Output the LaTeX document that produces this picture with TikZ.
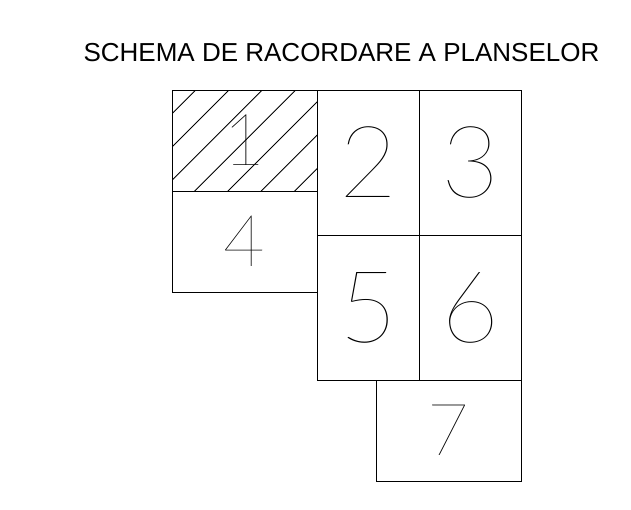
\documentclass[tikz,border=0pt]{standalone}
\usepackage{fontspec}
\setmainfont{Liberation Sans}
\IfFontExistsTF{Lato-Hairline.ttf}{\newfontfamily\digitfont{Lato-Hairline.ttf}}{\newfontfamily\digitfont{DejaVu Sans}[FakeStretch=1]}
\begin{document}
\begin{tikzpicture}[x=1pt,y=-1pt,
  sheet/.style={draw=black,line width=0.9pt},
  hatchline/.style={draw=black,line width=0.8pt},
  bignum/.style={font=\digitfont\fontsize{100}{100}\selectfont,inner sep=0pt},
  smallnum/.style={font=\digitfont\fontsize{72}{72}\selectfont,inner sep=0pt},
  title/.style={font=\fontsize{26}{26}\selectfont,inner sep=0pt}]
\useasboundingbox (0,0) rectangle (631,509);
% hatching of sheet 1
\begin{scope}
\clip (172,90) rectangle (317,191);
\foreach \c in {285.7,319,352.3,385.7,419,452.3,485.7}
  \draw[hatchline] (\c-200,200) -- (\c-80,80);
\end{scope}
\draw[sheet] (172,90) rectangle (317,191) node[pos=.5,smallnum] (n1) {1};
\draw[sheet] (172,191) rectangle (317,292) node[pos=.5,smallnum] (n4) {4};
\draw[sheet] (317,90) rectangle (419,235) node[pos=.5,bignum] (n2) {2};
\draw[sheet] (419,90) rectangle (521,235) node[pos=.5,bignum] (n3) {3};
\draw[sheet] (317,235) rectangle (419,380) node[pos=.5,bignum] (n5) {5};
\draw[sheet] (419,235) rectangle (521,380) node[pos=.5,bignum] (n6) {6};
\draw[sheet] (376,380) rectangle (521,481) node[pos=.5,smallnum] (n7) {7};
\node[title] (t) at (341.5,53) {SCHEMA DE RACORDARE A PLANSELOR};
\end{tikzpicture}
\end{document}
